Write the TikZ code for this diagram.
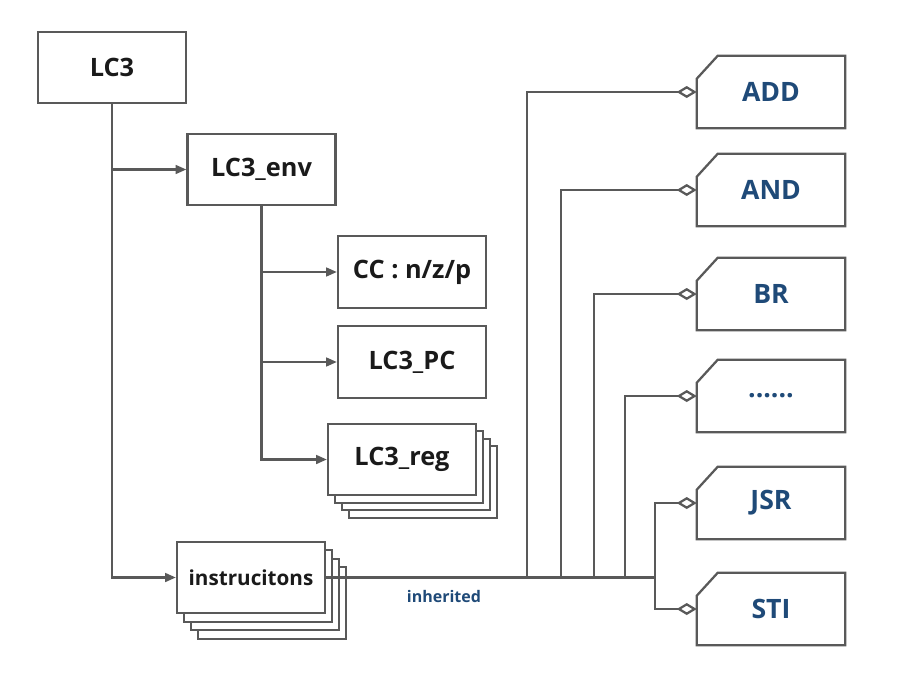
\documentclass[tikz,border=0pt]{standalone}
\usepackage{fontspec}
\setmainfont{Open Sans}
\usetikzlibrary{arrows.meta,calc}
\definecolor{lin}{HTML}{595959}
\definecolor{txt}{HTML}{1A1A1A}
\definecolor{blu}{HTML}{1F4A78}
\tikzset{
  box/.style={draw=lin,line width=1.7pt,fill=white,minimum width=111pt,minimum height=53.5pt,inner sep=0pt,font=\bfseries\fontsize{19}{22}\selectfont,text=txt},
  sbox/.style={box,font=\bfseries\fontsize{15.5}{18}\selectfont},
  rbox/.style={draw=none,minimum width=111pt,minimum height=54pt,inner sep=0pt,font=\bfseries\fontsize{20}{23}\selectfont,text=blu},
  arr/.style={draw=lin,line width=1.7pt,-{Triangle[length=8pt,width=6.5pt]}},
  inh/.style={draw=lin,line width=1.7pt,-{Diamond[open,length=15pt,width=9pt]}},
  lbl/.style={font=\bfseries\fontsize{12}{14}\selectfont,text=blu,inner sep=1pt},
}
\begin{document}
\begin{tikzpicture}[x=0.75pt,y=-0.75pt]
\useasboundingbox (0,0) rectangle (920,692);
% left tree
\node[box] (lc3) at (112,67.5) {LC3};
\node[box] (env) at (261.5,169.5) {LC3\_env};
\node[box] (cc) at (412,272) {CC : n/z/p};
\node[box] (pc) at (412,362) {LC3\_PC};
\foreach \k in {3,2,1}{
  \node[box] (reg\k) at ({402+7*\k},{459.5+7.5*\k}) {};
  \node[sbox] (ins\k) at ({251+7*\k},{577.5+8.5*\k}) {};
}
\node[box] (reg) at (402,459.5) {LC3\_reg};
\node[sbox] (ins) at (251,577.5) {instrucitons};
\draw[arr] (lc3.south) |- (env.west);
\draw[arr] (lc3.south) |- (ins.west);
\draw[arr] (env.south) |- (cc.west);
\draw[arr] (env.south) |- (pc.west);
\draw[arr] (env.south) |- (reg.west);
% right boxes
\node[rbox] (add) at (771,92) {ADD};
\node[rbox] (and) at (771,190) {AND};
\node[rbox] (br) at (771,294) {BR};
\node[rbox] (dots) at (771,396) {......};
\node[rbox] (jsr) at (771,503) {JSR};
\node[rbox] (sti) at (771,609) {STI};
\foreach \n in {add,and,br,dots,jsr,sti}{
  \draw[lin,line width=1.7pt] (\n.south west) -- ($(\n.north west)+(0,23)$) -- ($(\n.north west)+(21,0)$) -- (\n.north east) -- (\n.south east) -- cycle;
}
\coordinate (k1) at (527,0);
\coordinate (k2) at (561,0);
\coordinate (k3) at (594,0);
\coordinate (k4) at (625,0);
\coordinate (k5) at (655,0);
\draw[inh] (ins.east) -| (k1 |- add.west) -- (add.west);
\draw[inh] (ins.east) -| (k2 |- and.west) -- (and.west);
\draw[inh] (ins.east) -| (k3 |- br.west) -- (br.west);
\draw[inh] (ins.east) -| (k4 |- dots.west) -- (dots.west);
\draw[inh] (ins.east) -| (k5 |- jsr.west) -- (jsr.west);
\draw[inh] (ins.east) -| (k5 |- sti.west) -- (sti.west);
\node[lbl] (inhl) at (444,596) {inherited};
\end{tikzpicture}
\end{document}
